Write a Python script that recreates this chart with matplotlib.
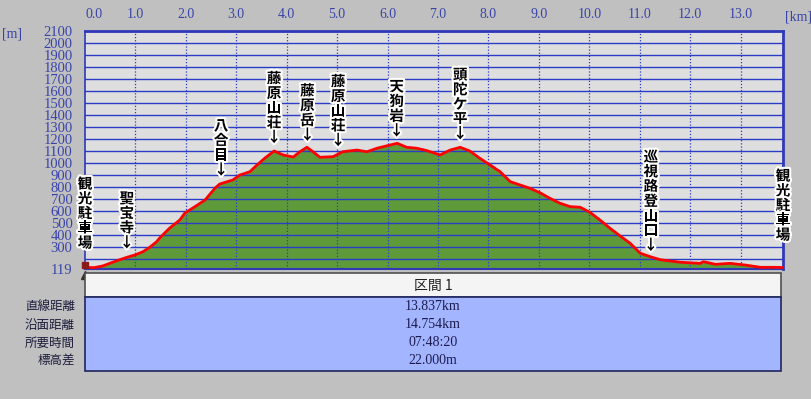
"""
elevation profile of the 藤原岳 route, drawn like the old map software output
"""

import matplotlib.pyplot as plt
import matplotlib.patheffects as pe
from matplotlib.patches import Rectangle

# profile: distance [km] and height [m]
dist_km = [0.00, 0.19, 0.35, 0.49, 0.63, 0.83, 0.99, 1.15, 1.29, 1.42, 1.48,
           1.68, 1.88, 1.98, 2.18, 2.38, 2.58, 2.67, 2.93, 3.07, 3.27, 3.41,
           3.57, 3.75, 3.93, 4.13, 4.26, 4.40, 4.52, 4.66, 4.92, 5.11, 5.39,
           5.59, 5.79, 6.05, 6.19, 6.38, 6.58, 6.78, 7.04, 7.24, 7.44, 7.63,
           7.83, 8.03, 8.23, 8.43, 8.63, 8.82, 9.02, 9.22, 9.42, 9.62, 9.82,
           10.02, 10.21, 10.41, 10.61, 10.81, 11.01, 11.21, 11.41, 11.81,
           12.20, 12.26, 12.50, 12.79, 13.09, 13.39, 13.68, 13.84]
elev_m = [131, 131, 144, 166, 188, 216, 236, 263, 302, 346, 377,
          460, 527, 585, 638, 693, 793, 826, 860, 901, 929, 985,
          1043, 1101, 1068, 1051, 1095, 1132, 1095, 1049, 1054, 1095, 1109,
          1095, 1124, 1151, 1165, 1132, 1124, 1104, 1068, 1109, 1132, 1101,
          1040, 985, 929, 846, 818, 791, 754, 707, 666, 638, 633,
          588, 527, 458, 394, 333, 250, 221, 196, 175,
          166, 180, 158, 166, 152, 133, 133, 131]

# place names along the route (km, name, pixel gap above the line, arrow)
place_km = [0.0, 0.83, 2.70, 3.75, 4.41, 5.02, 6.18, 7.44, 11.22, 13.84]
place_names = ["観光駐車場", "聖宝寺", "八合目", "藤原山荘", "藤原岳", "藤原山荘",
               "天狗岩", "頭陀ケ平", "巡視路登山口", "観光駐車場"]
place_gap = [17, 7, 6, 6, 5, 6, 5, 6, 4, 25]
place_arrow = [False, True, True, True, True, True, True, True, True, False]

x_ticks = [0, 1, 2, 3, 4, 5, 6, 7, 8, 9, 10, 11, 12, 13]
y_ticks = [119] + list(range(300, 2101, 100))
y_grid = list(range(200, 2101, 100))
y_min, y_max = 119, 2100
x_max = 13.84

# summary table under the chart
section_title = "区間 1"
row_names = ["直線距離", "沿面距離", "所要時間", "標高差"]
row_values = ["13.837km", "14.754km", "07:48:20", "22.000m"]

BG = "#c0c0c0"
PLOT_BG = "#dedede"
GRID = "#2a3cc8"
TICK_COL = "#3a44a8"
CJK = ["Noto Sans CJK JP", "DejaVu Sans"]
SERIF = ["Liberation Serif", "DejaVu Serif"]


def interp(x, xs, ys):
    """simple linear lookup of the profile height"""
    for i in range(len(xs) - 1):
        if xs[i] <= x <= xs[i + 1]:
            t = (x - xs[i]) / (xs[i + 1] - xs[i])
            return ys[i] + t * (ys[i + 1] - ys[i])
    return ys[-1]


fig = plt.figure(figsize=(8.11, 3.99), dpi=100, facecolor=BG)
W, H = 811, 399
ax = fig.add_axes([85 / W, 1 - 269 / H, (783 - 85) / W, (269 - 31) / H])
ax.set_facecolor(PLOT_BG)
ax.set_xlim(0, x_max)
ax.set_ylim(y_min, y_max)

# profile
ax.fill_between(dist_km, elev_m, y_min, color="#5e9a3a", zorder=1, linewidth=0)
for g in y_grid:
    ax.axhline(g, color=GRID, linewidth=1.0, zorder=2)
for t in x_ticks[1:]:
    ax.axvline(t, color=GRID, linewidth=0.9, linestyle=(0, (1, 1.5)), zorder=2)
ax.plot(dist_km, elev_m, color="#ff0000", linewidth=2.0, zorder=3,
        solid_joinstyle="round")

for side in ["top", "left", "right", "bottom"]:
    ax.spines[side].set_color("#3038b8")
ax.spines["top"].set_linewidth(2.0)
ax.spines["right"].set_linewidth(2.0)
ax.spines["left"].set_linewidth(1.2)
ax.spines["bottom"].set_linewidth(1.5)

ax.set_xticks(x_ticks)
ax.set_xticklabels(["%.1f" % t for t in x_ticks])
ax.set_yticks(y_ticks)
ax.set_yticklabels([str(t) for t in y_ticks])
ax.tick_params(axis="x", top=True, bottom=False, labeltop=True, labelbottom=False,
               length=0, pad=7, labelcolor=TICK_COL, labelsize=10)
ax.tick_params(axis="y", length=0, pad=9, labelcolor=TICK_COL, labelsize=10.5)
for lab in ax.get_xticklabels() + ax.get_yticklabels():
    lab.set_family(SERIF)
ax.get_xticklabels()[0].set_horizontalalignment("left")

# place name labels, written top to bottom
halo = [pe.withStroke(linewidth=3, foreground="white")]
for km, name, gap, arrow in zip(place_km, place_names, place_gap, place_arrow):
    txt = "\n".join(name)
    if arrow:
        txt += "\n↓"
    ax.annotate(txt, xy=(km, interp(km, dist_km, elev_m)),
                xytext=(0, gap), textcoords="offset pixels",
                ha="center", va="bottom", fontsize=10.5, family=CJK,
                weight="bold", linespacing=0.9, color="black",
                path_effects=halo, zorder=5, annotation_clip=False)

# small hiker mark at the start
ax.plot([0], [155], marker="s", markersize=5, color="#8b1a1a", clip_on=False, zorder=6)
ax.plot([0], [70], marker="^", markersize=6, color="#3a3020", clip_on=False, zorder=6)

# units and the summary table, drawn in pixel coords on an overlay
ov = fig.add_axes([0, 0, 1, 1], facecolor="none")
ov.set_xlim(0, W)
ov.set_ylim(H, 0)
ov.axis("off")

ov.text(798, 17, "[km]", ha="center", va="center", color=TICK_COL,
        fontsize=10, family=SERIF)
ov.text(12, 34, "[m]", ha="center", va="center", color=TICK_COL,
        fontsize=10, family=SERIF)

ov.add_patch(Rectangle((85, 273), 696, 24, facecolor="#f4f4f4",
                       edgecolor="#505050", linewidth=1.2))
ov.text(433, 285.5, section_title, ha="center", va="center", fontsize=10,
        family=CJK, color="#202020")
ov.add_patch(Rectangle((85, 297), 696, 74, facecolor="#a3b5ff",
                       edgecolor="#1e2460", linewidth=1.2))
row_y = [306, 325, 343, 360]
for y, name, val in zip(row_y, row_names, row_values):
    ov.text(75, y, name, ha="right", va="center", fontsize=9, family=CJK,
            color="#1c1c3c")
    ov.text(433, y, val, ha="center", va="center", fontsize=10, family=SERIF,
            color="#1c1c50")

fig.savefig("out.png", dpi=100, facecolor=BG)
